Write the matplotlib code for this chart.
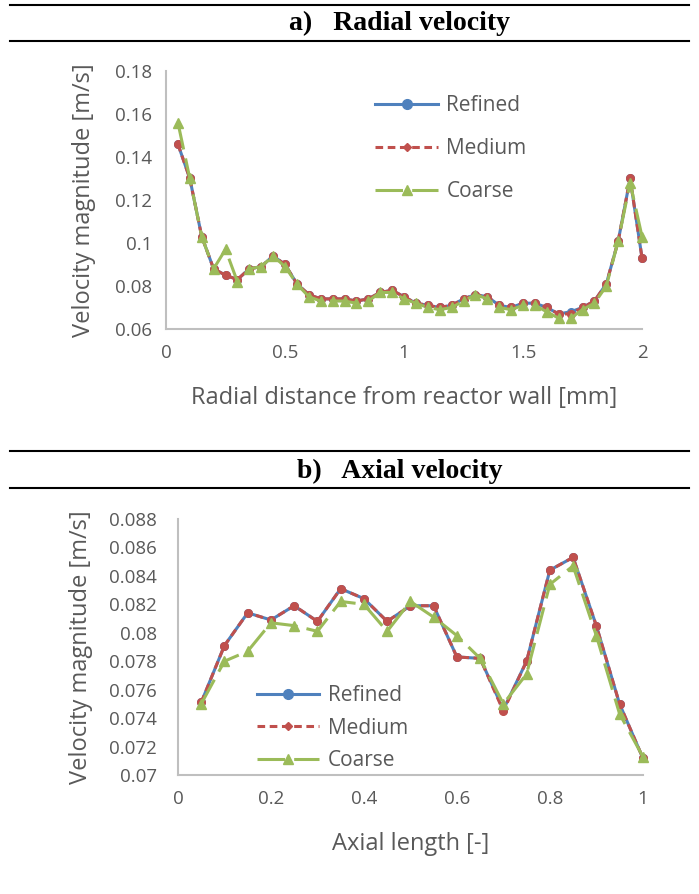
import matplotlib.pyplot as plt
from matplotlib.lines import Line2D

# Radial profile (top panel)
radial_x = [0.05, 0.10, 0.15, 0.20, 0.25, 0.30, 0.35, 0.40, 0.45, 0.50,
            0.55, 0.60, 0.65, 0.70, 0.75, 0.80, 0.85, 0.90, 0.95, 1.00,
            1.05, 1.10, 1.15, 1.20, 1.25, 1.30, 1.35, 1.40, 1.45, 1.50,
            1.55, 1.60, 1.65, 1.70, 1.75, 1.80, 1.85, 1.90, 1.95, 2.00]
radial_refined = [0.146, 0.130, 0.103, 0.088, 0.085, 0.083, 0.088, 0.089, 0.094, 0.090,
                  0.081, 0.076, 0.074, 0.074, 0.074, 0.073, 0.074, 0.077, 0.078, 0.075,
                  0.072, 0.071, 0.070, 0.071, 0.074, 0.076, 0.075, 0.071, 0.070, 0.072,
                  0.072, 0.070, 0.067, 0.068, 0.070, 0.073, 0.081, 0.101, 0.130, 0.093]
radial_medium = [0.146, 0.130, 0.103, 0.088, 0.085, 0.083, 0.088, 0.089, 0.094, 0.090,
                 0.081, 0.076, 0.074, 0.074, 0.074, 0.073, 0.074, 0.077, 0.078, 0.075,
                 0.072, 0.071, 0.070, 0.071, 0.074, 0.076, 0.075, 0.071, 0.070, 0.072,
                 0.072, 0.070, 0.067, 0.067, 0.070, 0.073, 0.081, 0.101, 0.130, 0.093]
radial_coarse = [0.156, 0.130, 0.103, 0.088, 0.097, 0.082, 0.088, 0.089, 0.094, 0.089,
                 0.081, 0.075, 0.073, 0.073, 0.073, 0.072, 0.073, 0.077, 0.077, 0.074,
                 0.072, 0.070, 0.069, 0.070, 0.073, 0.076, 0.074, 0.070, 0.069, 0.071,
                 0.071, 0.068, 0.065, 0.065, 0.069, 0.072, 0.080, 0.101, 0.128, 0.103]

# Axial profile (bottom panel)
axial_x = [0.05, 0.10, 0.15, 0.20, 0.25, 0.30, 0.35, 0.40, 0.45, 0.50,
           0.55, 0.60, 0.65, 0.70, 0.75, 0.80, 0.85, 0.90, 0.95, 1.00]
axial_refined = [0.0751, 0.0791, 0.0814, 0.0809, 0.0819, 0.0808, 0.0831, 0.0824, 0.0808, 0.0819,
                 0.0819, 0.0783, 0.0782, 0.0746, 0.0780, 0.0844, 0.0853, 0.0805, 0.0750, 0.0712]
axial_medium = [0.0751, 0.0791, 0.0814, 0.0809, 0.0819, 0.0808, 0.0831, 0.0824, 0.0808, 0.0819,
                0.0819, 0.0783, 0.0782, 0.0745, 0.0780, 0.0844, 0.0853, 0.0805, 0.0750, 0.0712]
axial_coarse = [0.0750, 0.0780, 0.0787, 0.0807, 0.0805, 0.0801, 0.0822, 0.0820, 0.0801, 0.0822,
                0.0811, 0.0798, 0.0782, 0.0750, 0.0771, 0.0834, 0.0847, 0.0798, 0.0743, 0.0713]

series_names = ['Refined', 'Medium', 'Coarse']

BLUE = '#4F81BD'
RED = '#C0504D'
GREEN = '#9BBB59'
GRIS = '#595959'
EJE = '#BFBFBF'

plt.rcParams['font.family'] = ['Open Sans', 'DejaVu Sans']

fig = plt.figure(figsize=(6.99, 8.94), dpi=100)


def estilo_eje(ax, pad_y):
    for lado in ['top', 'right']:
        ax.spines[lado].set_visible(False)
    for lado in ['left', 'bottom']:
        ax.spines[lado].set_color(EJE)
        ax.spines[lado].set_linewidth(1.5)
    ax.tick_params(length=0, labelsize=13.5, colors=GRIS)
    ax.tick_params(axis='y', pad=pad_y)
    ax.tick_params(axis='x', pad=11)


def dibujar(ax, x, refined, medium, coarse):
    ax.plot(x, refined, '-', color=BLUE, lw=2.2, marker='o', ms=5.5, zorder=3, clip_on=False)
    ax.plot(x, medium, color=RED, lw=2.2, ls=(0, (2.5, 1.5)), marker='o', ms=5.5, zorder=4,
            clip_on=False)
    ax.plot(x, coarse, color=GREEN, lw=2.2, ls=(0, (9, 3)), marker='^', ms=6.5, zorder=5,
            clip_on=False)


def leyenda(ax, anchor, loc, espacio):
    handles = [
        Line2D([], [], color=BLUE, lw=2.2, marker='o', ms=7),
        Line2D([], [], color=RED, lw=2.2, ls=(0, (2.5, 1.5)), marker='D', ms=4.5),
        Line2D([], [], color=GREEN, lw=2.2, ls=(0, (9, 3)), marker='^', ms=7),
    ]
    ax.legend(handles, series_names, frameon=False, fontsize=15,
              bbox_to_anchor=anchor, loc=loc, handlelength=3.0,
              labelspacing=espacio, handletextpad=0.4, labelcolor=GRIS,
              borderaxespad=0, borderpad=0)


def titulo(y_linea_sup, y_linea_inf, y_texto, texto):
    for y in [y_linea_sup, y_linea_inf]:
        fig.add_artist(Line2D([0.015, 0.985], [y, y], color='black', lw=1.5,
                              transform=fig.transFigure))
    fig.text(0.572, y_texto, texto, ha='center', va='center', fontsize=20,
             fontweight='bold', family='Liberation Serif')


# a) Radial velocity
ax1 = fig.add_axes([0.2375, 0.632, 0.681, 0.2886])
dibujar(ax1, radial_x, radial_refined, radial_medium, radial_coarse)
ax1.set_xlim(0, 2)
ax1.set_ylim(0.06, 0.18)
ax1.set_xticks([0, 0.5, 1, 1.5, 2])
ax1.set_xticklabels(['0', '0.5', '1', '1.5', '2'])
ax1.set_yticks([0.06, 0.08, 0.1, 0.12, 0.14, 0.16, 0.18])
ax1.set_yticklabels(['0.06', '0.08', '0.1', '0.12', '0.14', '0.16', '0.18'])
estilo_eje(ax1, 10)
ax1.set_xlabel('Radial distance from reactor wall [mm]', fontsize=17, color=GRIS, labelpad=17)
ax1.set_ylabel('Velocity magnitude [m/s]', fontsize=17, color=GRIS, labelpad=14)
leyenda(ax1, (0.44, 0.905), 'upper left', 1.05)
titulo(0.994, 0.954, 0.974, 'a)   Radial velocity')

# b) Axial velocity
ax2 = fig.add_axes([0.2546, 0.1331, 0.665, 0.2864])
dibujar(ax2, axial_x, axial_refined, axial_medium, axial_coarse)
ax2.set_xlim(0, 1)
ax2.set_ylim(0.07, 0.088)
ax2.set_xticks([0, 0.2, 0.4, 0.6, 0.8, 1])
ax2.set_xticklabels(['0', '0.2', '0.4', '0.6', '0.8', '1'])
yt = [0.07, 0.072, 0.074, 0.076, 0.078, 0.08, 0.082, 0.084, 0.086, 0.088]
ax2.set_yticks(yt)
ax2.set_yticklabels(['0.07', '0.072', '0.074', '0.076', '0.078', '0.08',
                     '0.082', '0.084', '0.086', '0.088'])
estilo_eje(ax2, 15)
ax2.set_xlabel('Axial length [-]', fontsize=17, color=GRIS, labelpad=17)
ax2.set_ylabel('Velocity magnitude [m/s]', fontsize=17, color=GRIS, labelpad=12)
leyenda(ax2, (0.17, 0.015), 'lower left', 0.55)
titulo(0.496, 0.454, 0.473, 'b)   Axial velocity')

fig.savefig('out.png', dpi=100)
